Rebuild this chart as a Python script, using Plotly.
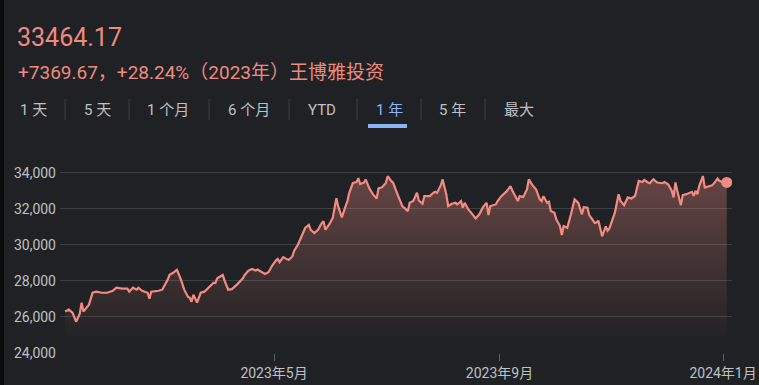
import pandas as pd
import plotly.graph_objects as go

# ---------------- data ----------------
# observation dates, as day offsets from 2023-01-01
day_offsets = [
    6, 8, 10, 12, 14, 15, 16, 19, 21, 23,
    26, 29, 32, 34, 37, 40, 41, 43, 45, 46,
    48, 50, 51, 52, 53, 57, 59, 62, 63, 65,
    67, 69, 71, 73, 74, 75, 76, 78, 80, 82,
    85, 87, 88, 89, 92, 93, 95, 97, 100, 103,
    104, 106, 108, 110, 111, 113, 115, 117, 119, 121,
    122, 123, 125, 127, 128, 130, 131, 133, 135, 137,
    139, 140, 142, 144, 146, 147, 148, 150, 152, 153,
    154, 155, 157, 159, 160, 161, 163, 165, 166, 167,
    169, 170, 172, 174, 176, 177, 179, 181, 182, 184,
    185, 187, 189, 190, 193, 194, 196, 198, 199, 201,
    202, 205, 207, 208, 209, 211, 212, 214, 215, 217,
    219, 220, 222, 223, 224, 226, 228, 230, 232, 234,
    236, 237, 238, 241, 242, 244, 247, 249, 250, 252,
    253, 254, 256, 258, 259, 261, 263, 265, 266, 267,
    269, 270, 271, 273, 274, 276, 277, 278, 280, 282,
    283, 284, 286, 288, 289, 291, 292, 295, 296, 297,
    299, 301, 302, 303, 306, 308, 309, 311, 313, 315,
    317, 319, 321, 322, 324, 325, 327, 329, 332, 333,
    335, 337, 338, 339, 340, 342, 343, 345, 348, 349,
    350, 351, 352, 354, 355, 357, 359, 360, 362, 363,
    365, 367,
]
values = [
    26290, 26390, 26220, 25720, 26170, 26780, 26280, 26670, 27330, 27390,
    27330, 27330, 27440, 27610, 27560, 27560, 27390, 27610, 27500, 27610,
    27440, 27390, 27330, 27000, 27390, 27440, 27500, 28060, 28330, 28440,
    28610, 28110, 27500, 27110, 27050, 26830, 27220, 26780, 27330, 27390,
    27700, 27890, 27870, 28130, 28320, 28000, 27500, 27530, 27810, 28130,
    28320, 28560, 28650, 28560, 28620, 28500, 28370, 28470, 28840, 29120,
    29210, 29030, 29310, 29200, 29150, 29350, 29670, 30000, 30460, 30930,
    31110, 30830, 30650, 30830, 31200, 31300, 30830, 31110, 31480, 32130,
    32590, 32130, 31520, 32130, 32410, 32870, 33430, 33480, 33700, 33370,
    33450, 33630, 33130, 32800, 32570, 33130, 33200, 33440, 33810, 33540,
    33440, 32890, 32390, 32150, 31870, 32330, 32430, 32890, 32460, 32280,
    32700, 32700, 32890, 32950, 32890, 33310, 33630, 32800, 32150, 32280,
    32330, 32240, 32430, 32060, 32330, 31960, 31720, 31460, 31690, 32090,
    32330, 31650, 32150, 32240, 32430, 32700, 32980, 33260, 33020, 32610,
    32430, 32700, 32650, 33070, 33630, 33310, 33070, 32520, 32430, 32700,
    32330, 32390, 31870, 31780, 31410, 31040, 30540, 31040, 30940, 31690,
    32060, 32520, 32330, 31690, 32090, 32060, 31650, 31210, 31240, 31340,
    30470, 31020, 30780, 30910, 31800, 32810, 32440, 32200, 32630, 32570,
    32720, 33550, 33490, 33600, 33460, 33420, 33640, 33460, 33420, 33490,
    33360, 33000, 32630, 33460, 33000, 32200, 32760, 32810, 32940, 32720,
    33000, 32810, 33270, 33820, 33180, 33240, 33310, 33400, 33680, 33550,
    33460, 33464.17,
]
x_tick_dates = ["2023-05-01", "2023-09-01", "2024-01-01"]
x_tick_labels = ["2023年5月", "2023年9月", "2024年1月"]
y_ticks = [24000, 26000, 28000, 30000, 32000, 34000]

price_text = "33464.17"
change_text = "+7369.67，+28.24%（2023年）王博雅投资"
tabs = ["1 天", "5 天", "1 个月", "6 个月", "YTD", "1 年", "5 年", "最大"]
active_tab = "1 年"

# ---------------- figure ----------------
dates = pd.Timestamp("2023-01-01") + pd.to_timedelta(day_offsets, unit="D")

W, H = 759, 385
L, R, T, B = 60, 27, 162, 32
PW, PH = W - L - R, H - T - B


def px(x):
    return (x - L) / PW


def py(y):
    return (H - B - y) / PH


BG = "#202124"
RED = "#f28b82"
TXT = "#bdc1c6"
BLUE = "#8ab4f8"
FONT = "Roboto, Arial, 'Noto Sans CJK SC', sans-serif"

fig = go.Figure()
fig.add_trace(go.Scatter(
    x=dates, y=values, mode="lines",
    line=dict(color=RED, width=2.2),
    fill="tozeroy",
    fillgradient=dict(
        type="vertical",
        colorscale=[[0, "rgba(242,139,130,0)"], [1, "rgba(242,139,130,0.34)"]],
        start=24500, stop=34000,
    ),
    hoverinfo="skip",
))
fig.add_trace(go.Scatter(
    x=[dates[-1]], y=[values[-1]], mode="markers",
    marker=dict(color=RED, size=11),
    hoverinfo="skip",
))

annotations = [
    dict(text=price_text, x=px(15), y=py(37), xanchor="left", yanchor="middle",
         font=dict(size=25, color="#ee8a80", family=FONT)),
    dict(text=change_text, x=px(16), y=py(72), xanchor="left", yanchor="middle",
         font=dict(size=19, color="#ee8a80", family=FONT)),
]
tab_centers = [33, 97, 168, 249, 322, 389, 452, 519]
for label, cx in zip(tabs, tab_centers):
    annotations.append(dict(
        text=label, x=px(cx), y=py(110), xanchor="center", yanchor="middle",
        font=dict(size=15, color=BLUE if label == active_tab else TXT, family=FONT),
    ))
for a in annotations:
    a.update(xref="paper", yref="paper", showarrow=False)

shapes = []
for sx in [65, 129, 209, 289, 357, 421, 485]:
    shapes.append(dict(type="line", xref="paper", yref="paper",
                       x0=px(sx), x1=px(sx), y0=py(99), y1=py(120),
                       line=dict(color="#3c4043", width=1)))
shapes.append(dict(type="rect", xref="paper", yref="paper",
                   x0=px(368), x1=px(407), y0=py(128), y1=py(124),
                   fillcolor=BLUE, line=dict(width=0)))
shapes.append(dict(type="rect", xref="paper", yref="paper",
                   x0=px(0), x1=px(4), y0=py(H), y1=py(0),
                   fillcolor="#0b0b0c", line=dict(width=0), layer="above"))

fig.update_layout(
    width=W, height=H,
    margin=dict(l=L, r=R, t=T, b=B, autoexpand=False),
    paper_bgcolor=BG, plot_bgcolor=BG,
    showlegend=False, hovermode=False,
    font=dict(family=FONT, color=TXT),
    annotations=annotations,
    shapes=shapes,
    xaxis=dict(
        type="date",
        range=["2023-01-04 05:00", "2024-01-05 21:00"],
        tickvals=x_tick_dates, ticktext=x_tick_labels,
        ticks="outside", ticklen=7, tickcolor="#5f6368", tickwidth=1,
        showgrid=False, zeroline=False, showline=False,
        tickfont=dict(size=14, color=TXT, family=FONT),
        automargin=False, fixedrange=True,
    ),
    yaxis=dict(
        range=[23980, 34600],
        tickvals=y_ticks, tickformat=",",
        showgrid=True, gridcolor="#3c4043", gridwidth=1,
        zeroline=False, showline=False, ticks="",
        ticklabelstandoff=3,
        tickfont=dict(size=14, color=TXT, family=FONT),
        automargin=False, fixedrange=True,
    ),
)

fig.write_html("out.html", config={"displayModeBar": False})
